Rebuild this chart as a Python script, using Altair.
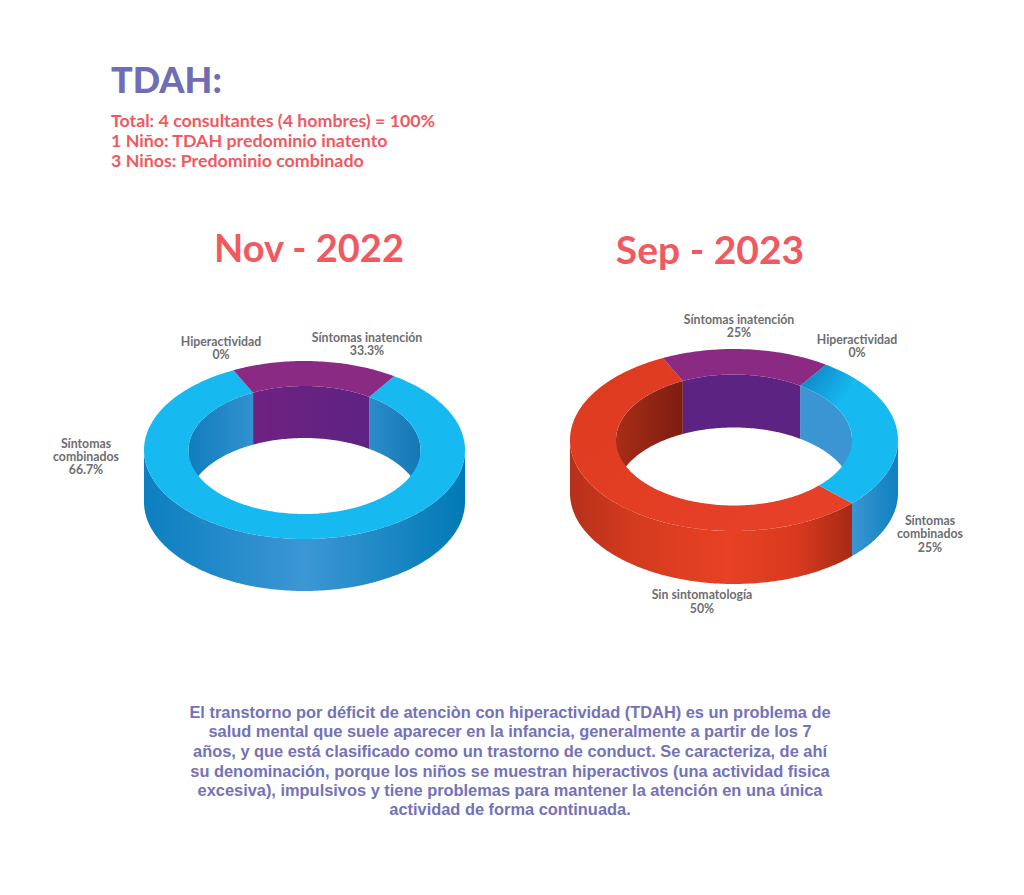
import math
import altair as alt
import pandas as pd

FONT = "Lato"
BODY_FONT = "Liberation Sans"
GREY = "#6d6e71"
CORAL = "#f0595f"
INDIGO = "#7472b8"

# Shares printed on the chart (percent)
nov_labels = ["Síntomas inatención", "Hiperactividad", "Síntomas combinados"]
nov_values = [33.3, 0, 66.7]
sep_labels = ["Síntomas inatención", "Hiperactividad", "Síntomas combinados", "Sin sintomatología"]
sep_values = [25, 0, 25, 50]

# Slice limits as drawn in the picture (degrees round the ellipse, clockwise from 3 o'clock)
nov_purple = [243.7, 303.9]
nov_blue = [-56.1, 243.7]
sep_purple = [244.3, 304.1]
sep_blue = [-55.9, 44.0]
sep_red = [44.0, 244.3]

# Ring geometry, in picture pixels
nov_ring = dict(cx=304.5, cy=450, rx=160.5, ry=89, irx=116, iry=64, depth=52)
sep_ring = dict(cx=734, cy=440, rx=164, ry=91, irx=118, iry=65.5, depth=53)


def pts(cx, cy, rx, ry, a0, a1):
    n = max(2, int(abs(a1 - a0)) + 1)
    out = []
    for i in range(n + 1):
        t = math.radians(a0 + (a1 - a0) * i / n)
        out.append([cx + rx * math.cos(t), cy + ry * math.sin(t)])
    return out


def feature(ring):
    ring = ring + [ring[0]]
    return {"type": "Feature", "properties": {}, "geometry": {"type": "Polygon", "coordinates": [ring]}}


def grad(*colors, x1=0, y1=0, x2=1, y2=0):
    n = len(colors) - 1
    stops = []
    for i, c in enumerate(colors):
        if isinstance(c, tuple):
            stops.append({"color": c[0], "offset": c[1]})
        else:
            stops.append({"color": c, "offset": i / n})
    return {"gradient": "linear", "x1": x1, "y1": y1, "x2": x2, "y2": y2, "stops": stops}


PROJ = alt.Projection(type="identity", scale=1, translate=[-8, -8])


def shape(feat, fill):
    return alt.Chart(alt.Data(values=[feat])).mark_geoshape(fill=fill, strokeWidth=0).project(**PROJ.to_dict())


def outer_wall(g, a0, a1, fill):
    top = pts(g["cx"], g["cy"], g["rx"], g["ry"], a0, a1)
    bot = pts(g["cx"], g["cy"] + g["depth"], g["rx"], g["ry"], a1, a0)
    return shape(feature(top + bot), fill)


def inner_wall(g, a0, a1, fill):
    top = pts(g["cx"], g["cy"], g["irx"], g["iry"], a0, a1)
    bot = pts(g["cx"], g["cy"] + g["depth"], g["irx"], g["iry"], a1, a0)
    return shape(feature(top + bot), fill)


def top_face(g, a0, a1, fill):
    o = pts(g["cx"], g["cy"], g["rx"], g["ry"], a0, a1)
    i = pts(g["cx"], g["cy"], g["irx"], g["iry"], a1, a0)
    return shape(feature(o + i), fill)


layers = [
    # Nov - 2022
    outer_wall(nov_ring, 0, 180, grad(("#007ab6", 0), ("#3c96d4", 0.5), ("#0c7fc0", 1), x1=1, x2=0)),
    inner_wall(nov_ring, 180, nov_purple[0], grad("#117dbd", "#3391d0")),
    inner_wall(nov_ring, nov_purple[1], 360, grad("#2c8cca", "#1478b5")),
    inner_wall(nov_ring, nov_purple[0], nov_purple[1], grad("#6f2180", "#5e2383")),
    top_face(nov_ring, nov_blue[0], nov_blue[1], "#17b9f1"),
    top_face(nov_ring, nov_purple[0], nov_purple[1], "#8a2a82"),
    # Sep - 2023
    outer_wall(sep_ring, 0, sep_blue[1], grad("#0f80c0", "#3b95d3", x1=1, x2=0)),
    outer_wall(sep_ring, sep_red[0], 180, grad(("#a62a14", 0), ("#d93a1f", 0.2), ("#e84125", 0.44), ("#d23a1e", 0.8), ("#b5301a", 1), x1=1, x2=0)),
    inner_wall(sep_ring, 180, sep_purple[0], grad("#a82d17", "#7c1e10")),
    inner_wall(sep_ring, sep_purple[1], 360, "#3b95d3"),
    inner_wall(sep_ring, sep_purple[0], sep_purple[1], "#5c2383"),
    top_face(sep_ring, sep_red[0], sep_red[1], grad("#dc3a1e", "#e8422a", x1=0, x2=1, y1=0, y2=1)),
    top_face(sep_ring, sep_blue[0], sep_blue[1], grad("#0f86c6", "#17b9f1", x1=0, y1=0.1, x2=0.3, y2=0.4)),
    top_face(sep_ring, sep_purple[0], sep_purple[1], "#8a2a82"),
]

X = alt.Scale(domain=[8, 1016])
Y = alt.Scale(domain=[887, 8])


def texts(rows, size, color, weight=700, align="center", font=FONT):
    df = pd.DataFrame(rows, columns=["t", "x", "y"])
    return alt.Chart(df).mark_text(
        font=font, fontSize=size, color=color, fontWeight=weight, align=align, baseline="middle"
    ).encode(
        x=alt.X("x:Q", scale=X, axis=None),
        y=alt.Y("y:Q", scale=Y, axis=None),
        text="t:N",
    )


layers += [
    texts([["TDAH:", 111, 82]], 36, "#6f6db4", 900, "left"),
    texts([
        ["Total: 4 consultantes (4 hombres) = 100%", 111, 122],
        ["1 Niño: TDAH predominio inatento", 111, 142],
        ["3 Niños: Predominio combinado", 111, 162],
    ], 17.8, CORAL, 700, "left"),
    texts([["Nov - 2022", 309, 251]], 38, CORAL, 700),
    texts([["Sep - 2023", 710, 252]], 39, CORAL, 700),
    texts([
        ["Hiperactividad", 221, 342], ["0%", 221, 355],
        ["Síntomas inatención", 367, 338], ["33.3%", 367, 351],
        ["Síntomas", 86, 444], ["combinados", 86, 457], ["66.7%", 86, 470],
        ["Síntomas inatención", 739, 320], ["25%", 739, 333],
        ["Hiperactividad", 857, 340], ["0%", 857, 353],
        ["Síntomas", 930, 521], ["combinados", 930, 534], ["25%", 930, 548],
        ["Sin sintomatología", 702, 595], ["50%", 702, 609],
    ], 12.3, GREY, 700),
    texts([
        ["El transtorno por déficit de atenciòn con hiperactividad (TDAH) es un problema de", 510, 713],
        ["salud mental que suele aparecer en la infancia, generalmente a partir de los 7", 510, 732],
        ["años, y que está clasificado como un trastorno de conduct. Se caracteriza, de ahí", 510, 752],
        ["su denominación, porque los niños se muestran hiperactivos (una actividad fisica", 510, 772],
        ["excesiva), impulsivos y tiene problemas para mantener la atención en una única", 510, 791],
        ["actividad de forma continuada.", 510, 810],
    ], 16.4, INDIGO, 700, "center", BODY_FONT),
]

chart = alt.layer(*layers).properties(
    width=1008, height=879, padding=0, autosize=alt.AutoSizeParams(type="none"), background="white"
).configure_view(stroke=None)

chart.save("out.html", embed_options={"renderer": "svg", "actions": False})
